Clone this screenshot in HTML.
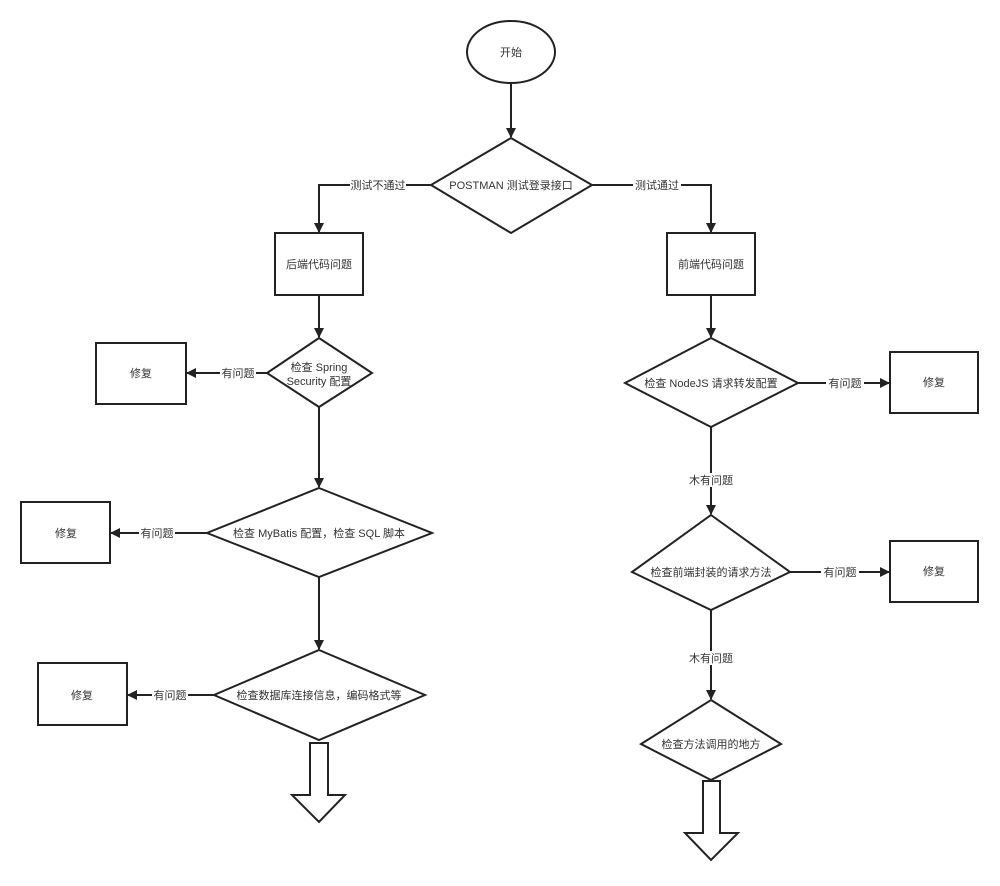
<!DOCTYPE html>
<html><head><meta charset="utf-8"><style>
body{margin:0;background:#fff}
svg text{font-family:"Liberation Sans","Noto Sans CJK SC",sans-serif;font-size:11px;fill:#333}
</style></head><body>
<svg width="1000" height="881" viewBox="0 0 1000 881" xmlns="http://www.w3.org/2000/svg">
<defs><marker id="a" markerWidth="10" markerHeight="10" refX="9" refY="5" orient="auto" markerUnits="userSpaceOnUse"><path d="M0,0 L10,5 L0,10 Z" fill="#222"/></marker></defs>
<g fill="#fff" stroke="#222" stroke-width="2">
<ellipse cx="511" cy="52" rx="44" ry="31"/>
<polygon points="511,138 592,185 511,233 431,185"/>
<rect x="275" y="233" width="88" height="62"/>
<rect x="667" y="233" width="88" height="62"/>
<polygon points="319,338 372,373 319,407 267,373"/>
<rect x="96" y="343" width="90" height="61"/>
<polygon points="319,488 432,533 319,577 207,533"/>
<rect x="21" y="502" width="89" height="61"/>
<polygon points="319,650 425,695 319,740 214,695"/>
<rect x="38" y="663" width="89" height="62"/>
<polygon points="310,743 328,743 328,795 345,795 319,822 292,795 310,795"/>
<polygon points="711,338 798,383 711,427 625,383"/>
<rect x="890" y="352" width="88" height="61"/>
<polygon points="711,515 790,572 711,610 632,572"/>
<rect x="890" y="541" width="88" height="61"/>
<polygon points="711,700 781,744 711,780 641,744"/>
<polygon points="703,781 720,781 720,833 738,833 711,860 685,833 703,833"/>
</g>
<g fill="none" stroke="#222" stroke-width="2" marker-end="url(#a)">
<path d="M511,83 V137"/>
<path d="M431,185 H319 V232"/>
<path d="M592,185 H711 V232"/>
<path d="M319,295 V337"/>
<path d="M711,295 V337"/>
<path d="M267,373 H187"/>
<path d="M319,407 V487"/>
<path d="M207,533 H111"/>
<path d="M319,577 V649"/>
<path d="M214,695 H128"/>
<path d="M798,383 H889"/>
<path d="M711,427 V514"/>
<path d="M790,572 H889"/>
<path d="M711,610 V699"/>
</g>
<g fill="#fff">
<rect x="350" y="178" width="56" height="14"/><rect x="633" y="178" width="48" height="14"/>
<rect x="220" y="366" width="36" height="14"/><rect x="139" y="526" width="36" height="14"/>
<rect x="152" y="688" width="36" height="14"/><rect x="826" y="376" width="38" height="14"/>
<rect x="821" y="565" width="38" height="14"/><rect x="688" y="473" width="46" height="14"/>
<rect x="688" y="651" width="46" height="14"/>
</g>
<g text-anchor="middle">
<text x="511" y="56">开始</text>
<text x="511" y="189">POSTMAN 测试登录接口</text>
<text x="378" y="189">测试不通过</text>
<text x="657" y="189">测试通过</text>
<text x="319" y="268">后端代码问题</text>
<text x="711" y="268">前端代码问题</text>
<text x="319" y="371">检查 Spring</text>
<text x="319" y="385">Security 配置</text>
<text x="141" y="377">修复</text>
<text x="238" y="377">有问题</text>
<text x="319" y="537">检查 MyBatis 配置，检查 SQL 脚本</text>
<text x="66" y="537">修复</text>
<text x="157" y="537">有问题</text>
<text x="319" y="699">检查数据库连接信息，编码格式等</text>
<text x="82" y="699">修复</text>
<text x="170" y="699">有问题</text>
<text x="711" y="387">检查 NodeJS 请求转发配置</text>
<text x="845" y="387">有问题</text>
<text x="934" y="386">修复</text>
<text x="711" y="484">木有问题</text>
<text x="711" y="576">检查前端封装的请求方法</text>
<text x="840" y="576">有问题</text>
<text x="934" y="575">修复</text>
<text x="711" y="662">木有问题</text>
<text x="711" y="748">检查方法调用的地方</text>
</g>
</svg>
</body></html>
